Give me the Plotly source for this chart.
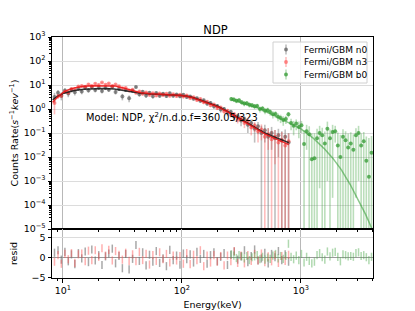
import plotly.graph_objects as go
from plotly.subplots import make_subplots

# ---------------- data ----------------
nai_energy = [8.5, 9.1, 9.7, 10.4, 11.1, 11.8, 12.6, 13.5, 14.4, 15.4,
              16.4, 17.5, 18.7, 20.0, 21.3, 22.8, 24.3, 26.0, 27.7, 29.6,
              31.6, 33.7, 36.0, 38.5, 41.1, 43.9, 46.8, 50.0, 53.4, 57.0,
              60.9, 65.0, 69.4, 74.1, 79.1, 84.5, 90.2, 96.3, 102.8, 109.8,
              117.3, 125.2, 133.7, 142.8, 152.5, 162.8, 173.9, 185.7, 198.3, 211.7,
              226.1, 241.4, 257.8, 275.3, 294.0, 313.9, 335.2, 358.0, 382.3, 408.2,
              435.9, 465.5, 497.1, 530.8, 566.8, 605.3, 646.4, 690.2, 737.1, 787.1]

n0_rate = [3.2, 4.8, 3.6, 5.9, 4.4, 6.3, 5.0, 7.2, 5.4, 7.8,
           6.0, 8.3, 6.2, 7.7, 5.6, 7.6, 6.3, 8.4, 5.1, 6.8,
           3.3, 6.2, 2.8, 5.8, 8.2, 4.1, 5.2, 3.7, 4.8, 3.4,
           4.6, 3.6, 4.3, 3.5, 4.5, 3.6, 4.0, 3.4, 3.9, 3.2,
           3.3, 2.7, 2.8, 2.2, 2.3, 1.7, 1.8, 1.3, 1.35, 0.95,
           1.0, 0.7, 0.75, 0.48, 0.5, 0.33, 0.38, 0.22, 0.26, 0.15,
           0.19, 0.10, 0.13, 0.07, 0.10, 0.06, 0.08, 0.05, 0.07, 0.04]
n0_err = [1.5, 1.4, 1.3, 1.4, 1.3, 1.4, 1.3, 1.4, 1.3, 1.4,
          1.3, 1.4, 1.3, 1.3, 1.2, 1.3, 1.2, 1.3, 1.1, 1.2,
          1.0, 1.1, 0.9, 1.0, 1.1, 0.9, 0.9, 0.8, 0.8, 0.7,
          0.7, 0.7, 0.7, 0.6, 0.7, 0.6, 0.6, 0.6, 0.6, 0.5,
          0.5, 0.45, 0.45, 0.4, 0.4, 0.35, 0.33, 0.3, 0.27, 0.24,
          0.22, 0.2, 0.18, 0.16, 0.15, 0.14, 0.13, 0.12, 0.11, 0.11,
          0.1, 0.1, 0.09, 0.09, 0.08, 0.075, 0.07, 0.07, 0.072, 0.06]
n0_resid = [1.2, 1.8, -0.5, 1.4, -0.9, 0.8, -1.6, 1.1, -0.2, 1.5,
            -1.1, 2.0, -0.7, 0.6, -1.8, 0.3, 1.0, 2.2, -1.4, 0.4,
            -2.6, 0.9, -2.9, -0.3, 3.1, -0.8, 1.3, -1.9, 0.7, -1.0,
            1.6, -1.3, -0.2, -2.1, 1.9, -0.6, 0.5, -1.7, 1.0, -0.4,
            0.8, -1.2, 1.4, -0.3, 0.9, -1.5, 0.6, 1.3, -0.9, 0.2,
            1.1, -1.8, 0.7, 1.5, -0.5, 0.3, 1.8, -1.1, 0.4, 2.0,
            -0.7, -0.2, 1.2, -1.4, 0.9, 0.1, 1.6, -0.6, 0.8, -1.0]

n3_rate = [1.8, 3.4, 3.6, 5.2, 4.9, 6.9, 6.8, 8.6, 9.2, 8.4,
           10.5, 9.2, 11.4, 10.1, 12.6, 10.3, 11.5, 9.1, 10.4, 8.9,
           7.3, 7.6, 5.9, 6.3, 4.8, 5.4, 4.3, 4.9, 3.9, 4.5,
           3.7, 4.4, 3.8, 4.3, 3.6, 4.1, 3.5, 3.9, 3.3, 3.7,
           2.9, 3.1, 2.4, 2.6, 1.9, 2.0, 1.45, 1.55, 1.1, 1.15,
           0.8, 0.85, 0.58, 0.6, 0.36, 0.42, 0.26, 0.31, 0.17, 0.2,
           0.12, 0.14, 0.07, 0.09, 0.055, 0.07, 0.04, 0.05, 0.03, 0.045]
n3_err = [1.2, 0.8, 0.7, 0.8, 0.8, 0.9, 0.9, 1.0, 1.0, 1.0,
          1.1, 1.1, 1.1, 1.1, 1.2, 1.1, 1.1, 1.0, 1.0, 1.0,
          0.9, 0.9, 0.8, 0.8, 0.7, 0.7, 0.6, 0.6, 0.6, 0.6,
          0.5, 0.5, 0.5, 0.5, 0.5, 0.5, 0.5, 0.5, 0.5, 0.5,
          0.4, 0.4, 0.4, 0.35, 0.3, 0.3, 0.25, 0.25, 0.2, 0.2,
          0.16, 0.16, 0.13, 0.13, 0.11, 0.11, 0.1, 0.1, 0.09, 0.09,
          0.08, 0.09, 0.08, 0.07, 0.07, 0.065, 0.06, 0.06, 0.055, 0.05]
n3_resid = [-1.0, 0.6, -1.5, 0.9, -0.4, 1.1, -1.3, 0.8, 1.0, -0.9,
            1.7, -0.6, 1.8, 0.2, 2.3, 0.5, 1.9, -0.7, 1.6, 0.7,
            -0.5, 1.2, -0.8, 0.8, -0.9, 1.4, -0.6, 0.9, -1.7, 0.6,
            -0.8, 1.3, -0.4, 0.9, -1.2, 0.5, -0.7, 0.4, -1.5, 1.1,
            -1.6, 0.7, -0.6, 1.8, -2.1, 0.5, -1.2, 0.6, -1.0, 0.4,
            -1.9, 0.5, -0.9, 1.6, -1.3, 0.5, -1.4, 0.6, -0.8, 0.9,
            -0.7, 1.0, -1.1, 0.3, -0.9, 0.6, -1.3, 0.4, -0.8, 0.7]

bgo_energy = [260, 273, 287, 302, 318, 334, 351, 369, 388, 408,
              429, 452, 475, 499, 525, 552, 581, 611, 642, 675,
              710, 747, 785, 826, 868, 913, 960, 1010, 1062, 1116,
              1174, 1234, 1298, 1365, 1435, 1509, 1587, 1668, 1754, 1845,
              1940, 2040, 2145, 2255, 2371, 2493, 2621, 2756, 2898, 3047,
              3204, 3369, 3542, 3724, 3916]
b0_rate = [2.6, 2.5, 2.2, 2.3, 1.9, 1.7, 1.75, 1.5, 1.45, 1.3,
           1.35, 1.0, 1.05, 0.85, 0.9, 0.75, 0.6, 0.62, 0.48, 0.42,
           0.35, 0.38, 0.6, 0.26, 0.2, 0.25, 0.18, 0.21, 0.035, 0.12,
           0.09, 0.008, 0.009, 0.06, 0.1, 0.08, 0.037, 0.15, 0.06, 0.11,
           0.12, 0.03, 0.01, 0.07, 0.05, 0.025, 0.037, 0.02, 0.08, 0.1,
           0.03, 0.045, 0.007, 0.0015, 0.015]
b0_err = [0.5, 0.5, 0.45, 0.45, 0.4, 0.4, 0.38, 0.35, 0.34, 0.32,
          0.31, 0.28, 0.27, 0.25, 0.24, 0.22, 0.2, 0.19, 0.17, 0.16,
          0.15, 0.14, 0.15, 0.13, 0.12, 0.12, 0.12, 0.11, 0.1, 0.1,
          0.1, 0.09, 0.09, 0.09, 0.0995, 0.085, 0.08, 0.149, 0.08, 0.1098,
          0.08, 0.075, 0.075, 0.075, 0.07, 0.07, 0.07, 0.07, 0.0798, 0.099,
          0.065, 0.065, 0.065, 0.06, 0.06]
b0_resid = [0.8, 0.5, -0.1, 0.6, 0.3, -0.2, 0.4, -0.6, 0.1, 0.3,
            0.6, -0.4, 0.2, -0.5, 0.0, -0.3, 0.5, 0.9, -0.2, 0.4,
            -0.3, 0.4, 3.4, 0.2, -0.4, 0.5, -0.6, 0.9, -1.2, 0.2,
            -0.8, -1.4, -1.0, 0.6, 1.1, 0.1, -0.5, 1.5, 0.3, 1.2,
            1.4, 0.2, -0.9, 0.8, 0.6, 0.3, 0.4, 0.2, 1.1, 1.3,
            0.4, 0.6, 0.1, -0.6, 0.2]

model_nai_energy = [8.2, 9.0, 10.0, 11.0, 12.5, 15.0, 18.0, 22.0, 27.0, 32.0,
                    38.0, 45.0, 55.0, 70.0, 85.0, 100.0, 120.0, 140.0, 170.0, 200.0,
                    250.0, 300.0, 400.0, 500.0, 600.0, 700.0, 790.0]
n0_model = [2.4, 3.4, 4.4, 5.1, 5.9, 6.6, 7.0, 7.1, 6.8, 5.9,
            5.0, 4.5, 4.2, 4.0, 3.9, 3.7, 3.15, 2.45, 1.75, 1.3,
            0.72, 0.42, 0.18, 0.1, 0.068, 0.05, 0.04]
n3_model = [1.9, 3.1, 4.8, 6.2, 7.6, 8.8, 9.4, 9.6, 9.2, 7.6,
            5.9, 4.8, 4.3, 4.05, 3.9, 3.7, 3.1, 2.4, 1.7, 1.25,
            0.7, 0.4, 0.17, 0.09, 0.06, 0.042, 0.033]
model_bgo_energy = [260, 330, 437, 604, 835, 1000, 1250, 1560, 1850, 2180,
                    2600, 3020, 3500, 3840, 4000]
b0_model = [2.45, 1.7, 1.1, 0.52, 0.24, 0.15, 0.065, 0.023, 0.009, 3e-3,
            7e-4, 1.7e-4, 4e-5, 1.4e-5, 9e-6]

y_tick_vals = [1e-5, 1e-4, 1e-3, 1e-2, 1e-1, 1e0, 1e1, 1e2, 1e3]
y_tick_text = ["10<sup>\u22125</sup>", "10<sup>\u22124</sup>", "10<sup>\u22123</sup>",
               "10<sup>\u22122</sup>", "10<sup>\u22121</sup>", "10<sup>0</sup>",
               "10<sup>1</sup>", "10<sup>2</sup>", "10<sup>3</sup>"]
x_tick_vals = [10, 100, 1000]
x_tick_text = ["10<sup>1</sup>", "10<sup>2</sup>", "10<sup>3</sup>"]
resid_tick_vals = [-5, 0, 5]

labels = ["Fermi/GBM n0", "Fermi/GBM n3", "Fermi/GBM b0"]
FONT = "DejaVu Sans"

# ---------------- layout geometry (figure pixels) ----------------
W, H = 415, 311
ML, MR, MT, MB = 44, 50, 29, 41
PW, PH = W - ML - MR, H - MT - MB


def px_x(x):
    return (x - ML) / PW


def px_y(y):
    return (H - MB - y) / PH


fig = make_subplots(rows=2, cols=1, shared_xaxes=True, vertical_spacing=0,
                    row_heights=[0.797, 0.203])

series = [
    (nai_energy, n0_rate, n0_err, n0_resid, n0_model, model_nai_energy,
     "rgba(70,70,70,0.6)", "rgba(110,110,110,0.45)", "rgba(20,20,20,0.85)", "rgba(110,110,110,0.6)"),
    (nai_energy, n3_rate, n3_err, n3_resid, n3_model, model_nai_energy,
     "rgba(255,50,50,0.5)", "rgba(255,70,70,0.35)", "rgba(235,20,20,0.85)", "rgba(255,80,80,0.45)"),
    (bgo_energy, b0_rate, b0_err, b0_resid, b0_model, model_bgo_energy,
     "rgba(40,150,40,0.7)", "rgba(60,160,60,0.35)", "rgba(60,160,60,0.6)", "rgba(80,170,80,0.45)"),
]

for (ex, ry, er, rs, mdl, mex, mcol, ecol, lcol, rcol), lab in zip(series, labels):
    fig.add_trace(go.Scatter(
        x=ex, y=ry, mode="markers", name=lab,
        marker=dict(size=4, color=mcol),
        error_y=dict(type="data", array=er, color=ecol, thickness=1.6, width=0),
        showlegend=False), row=1, col=1)
    fig.add_trace(go.Scatter(
        x=ex, y=rs, mode="markers",
        marker=dict(size=1, color="rgba(0,0,0,0)"),
        error_y=dict(type="constant", value=1, color=rcol, thickness=1.5, width=0),
        showlegend=False, hoverinfo="skip"), row=2, col=1)

for (ex, ry, er, rs, mdl, mex, mcol, ecol, lcol, rcol) in series:
    fig.add_trace(go.Scatter(
        x=mex, y=mdl, mode="lines", line=dict(color=lcol, width=1.5),
        showlegend=False, hoverinfo="skip"), row=1, col=1)

axis_common = dict(showline=True, linecolor="black", linewidth=1, mirror=True,
                   ticks="outside", ticklen=3.5, tickcolor="black", automargin=False,
                   tickfont=dict(family=FONT, size=9.5, color="black"))

fig.update_xaxes(type="log", range=[0.9085, 3.6053], showgrid=True,
                 gridcolor="#b8b8b8", gridwidth=1,
                 tickmode="array", tickvals=x_tick_vals, ticktext=x_tick_text,
                 minor=dict(ticks="outside", ticklen=2, tickcolor="black", dtick="D1", showgrid=False),
                 **axis_common)
fig.update_xaxes(showticklabels=False, row=1, col=1)
fig.update_xaxes(title=dict(text="Energy(keV)", font=dict(family=FONT, size=9.5, color="black"),
                            standoff=6), row=2, col=1)

fig.update_yaxes(type="log", range=[-5, 3], showgrid=True, gridcolor="#dcdcdc", gridwidth=1.2,
                 tickmode="array", tickvals=y_tick_vals, ticktext=y_tick_text,
                 minor=dict(ticks="outside", ticklen=2, tickcolor="black", dtick="D1", showgrid=False),
                 title=dict(text="Counts Rate(<i>s</i><sup>\u22121</sup><i>kev</i><sup>\u22121</sup>)",
                            font=dict(family=FONT, size=9.5, color="black"), standoff=4),
                 zeroline=False, row=1, col=1, **axis_common)
fig.update_yaxes(range=[-5, 7], tickmode="array", tickvals=resid_tick_vals,
                 showgrid=True, gridcolor="#dcdcdc", gridwidth=1.2,
                 zeroline=True, zerolinecolor="#9a9a9a", zerolinewidth=1,
                 title=dict(text="resid", font=dict(family=FONT, size=9.5, color="black"), standoff=12),
                 row=2, col=1, **axis_common)

fig.add_annotation(text="Model: NDP, \u03c7<sup>2</sup>/n.d.o.f=360.05/323",
                   xref="x domain", yref="y domain", x=0.1, y=0.583,
                   xanchor="left", yanchor="middle", showarrow=False,
                   font=dict(family=FONT, size=9.8, color="black"))

# ---------------- legend (matplotlib style: errorbar icon + label) ----------------
fig.add_shape(type="rect", xref="paper", yref="paper",
              x0=px_x(265), x1=px_x(359), y0=px_y(75), y1=px_y(34),
              line=dict(color="#d0d0d0", width=1), fillcolor="rgba(255,255,255,0.85)",
              layer="above")
legend_rows = [41.5, 54, 66.5]
for (ex, ry, er, rs, mdl, mex, mcol, ecol, lcol, rcol), lab, ry_px in zip(series, labels, legend_rows):
    fig.add_shape(type="line", xref="paper", yref="paper",
                  x0=px_x(278), x1=px_x(278), y0=px_y(ry_px + 5), y1=px_y(ry_px - 5),
                  line=dict(color=ecol, width=1.6), layer="above")
    fig.add_shape(type="circle", xref="paper", yref="paper",
                  x0=px_x(276), x1=px_x(280), y0=px_y(ry_px + 2), y1=px_y(ry_px - 2),
                  line=dict(width=0), fillcolor=mcol, layer="above")
    fig.add_annotation(text=lab, xref="paper", yref="paper",
                       x=px_x(293.5), y=px_y(ry_px), xanchor="left", yanchor="middle",
                       showarrow=False, font=dict(family=FONT, size=9, color="black"))

fig.update_layout(
    width=W, height=H,
    margin=dict(l=ML, r=MR, t=MT, b=MB),
    paper_bgcolor="white", plot_bgcolor="white",
    title=dict(text="NDP", x=px_x(204.5), xanchor="center", y=1 - 22 / H, yanchor="middle",
               font=dict(family=FONT, size=11.5, color="black")),
    font=dict(family=FONT, size=9.5, color="black"),
    showlegend=False,
)

fig.write_html("out.html")
